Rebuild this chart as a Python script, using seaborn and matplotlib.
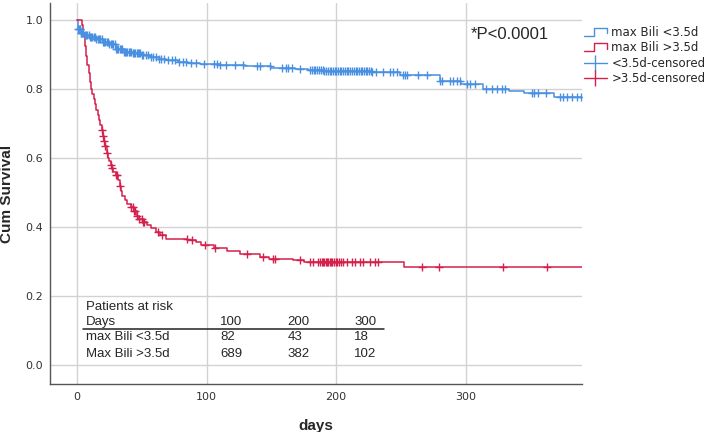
import numpy as np
import matplotlib
matplotlib.use("Agg")
import matplotlib.pyplot as plt
from matplotlib.lines import Line2D
from matplotlib.legend_handler import HandlerLine2D
import seaborn as sns

# Kaplan-Meier steps (event day, cumulative survival after it)
low_days = [0, 1, 3, 6, 10, 15, 20, 25, 30, 36, 43, 50, 56, 63, 69, 78, 86, 95,
            110, 130, 150, 168, 178, 190, 228, 249, 280, 296, 313, 333, 345, 368]
low_surv = [1.0, 0.975, 0.962, 0.955, 0.950, 0.946, 0.937, 0.929, 0.916, 0.908,
            0.903, 0.897, 0.892, 0.888, 0.884, 0.879, 0.876, 0.872, 0.869, 0.866,
            0.862, 0.859, 0.855, 0.852, 0.848, 0.840, 0.822, 0.813, 0.801, 0.793,
            0.788, 0.778]
high_days = [0, 4, 5, 6, 7, 8, 9, 10, 11, 12, 13, 14, 15, 16, 17, 18, 19, 20, 21,
             22, 23, 24, 25, 26, 27, 28, 30, 32, 33, 34, 35, 37, 39, 42, 44, 46,
             48, 51, 54, 57, 61, 64, 69, 85, 92, 96, 106, 116, 126, 141, 148, 167,
             175, 252]
high_surv = [1.0, 0.985, 0.955, 0.925, 0.895, 0.87, 0.845, 0.82, 0.80, 0.785,
             0.77, 0.755, 0.74, 0.725, 0.71, 0.695, 0.68, 0.665, 0.65, 0.635,
             0.615, 0.60, 0.59, 0.58, 0.57, 0.56, 0.55, 0.535, 0.52, 0.505, 0.49,
             0.478, 0.468, 0.458, 0.445, 0.432, 0.422, 0.414, 0.405, 0.398, 0.386,
             0.377, 0.366, 0.362, 0.356, 0.348, 0.339, 0.331, 0.322, 0.314, 0.307,
             0.303, 0.300, 0.285]
end_day = 390

# censored observations (days)
low_censored = [1, 1.5, 2, 2.5, 3, 3.5, 4, 4.5, 5, 6, 7, 8, 9, 10, 11, 12, 13, 14,
                15, 16, 17, 18, 19, 20, 21, 22, 23, 24, 25, 26, 27, 28, 29, 30, 31,
                32, 33, 34, 35, 36, 37, 38, 39, 40, 41, 42, 43, 44, 45, 46, 47, 48,
                49, 50, 51, 53, 55, 57, 59, 61, 63, 65, 67, 70, 73, 76, 79, 82, 84,
                88, 92, 98, 106, 108, 110, 115, 122, 128, 139, 141, 149, 158, 161,
                163, 166, 172, 180, 181.5, 183, 184, 185.5, 187, 188, 189.5, 191,
                192, 193.5, 195, 196, 197.5, 199, 200, 201.5, 203, 204, 205.5, 207,
                208, 209.5, 211, 212, 213.5, 215, 216, 217.5, 219, 220, 221.5, 223,
                224, 225.5, 227, 228, 231, 236, 241.5, 244, 247, 251.5, 253, 254.6,
                263, 270, 280, 282, 288, 290, 293, 295.5, 300.7, 303, 307, 316, 320,
                324, 327.7, 330, 351, 353, 356, 362, 372.7, 375, 378, 382, 385.6, 389]
high_censored = [19, 20, 21, 22, 23.5, 26, 27, 30, 31, 33, 42, 43, 44, 45, 46, 48,
                 50, 51, 52, 62.5, 66, 84.6, 88.5, 99, 106.5, 131, 143.5, 151, 153,
                 172, 180, 182, 186, 187.5, 189, 190, 191, 192, 193, 194, 195, 196,
                 197, 198, 199.5, 201, 202.5, 204, 205, 208, 212, 214.5, 218.4, 221,
                 226, 230, 232, 266, 279, 329, 363]

# patients at risk table
risk_days = [100, 200, 300]
risk_low = [82, 43, 18]
risk_high = [689, 382, 102]
risk_labels = ["max Bili <3.5d", "Max Bili >3.5d"]

series_labels = ["max Bili <3.5d", "max Bili >3.5d", "<3.5d-censored", ">3.5d-censored"]
BLUE = "#4A90E2"
RED = "#D4204C"


def surv_at(days, surv, t):
    idx = np.searchsorted(np.asarray(days), np.asarray(t), side="right") - 1
    return np.asarray(surv)[idx]


class HandlerStep(HandlerLine2D):
    """draws the little step icon SPSS uses in its legend"""
    def create_artists(self, legend, orig_handle, xdescent, ydescent,
                       width, height, fontsize, trans):
        x0, x1 = -xdescent, -xdescent + width
        ym = height / 2 - ydescent
        xs = [x0, x0 + 0.45 * width, x0 + 0.45 * width, x1, x1]
        ys = [ym - 3, ym - 3, ym + 3, ym + 3, ym - 1]
        line = Line2D(xs, ys, color=orig_handle.get_color(), lw=1)
        line.set_transform(trans)
        return [line]


sns.set_theme(style="whitegrid", rc={
    "grid.color": "#d2d2d2",
    "grid.linewidth": 1.0,
    "axes.edgecolor": "#555555",
    "axes.linewidth": 1.0,
})
plt.rcParams["font.family"] = ["DejaVu Sans"]

fig = plt.figure(figsize=(7.09, 4.32), dpi=100)
ax = fig.add_axes([0.0705, 0.111, 0.7504, 0.882])

for days, surv, color in [(low_days, low_surv, BLUE), (high_days, high_surv, RED)]:
    xs = list(days) + [end_day]
    ys = list(surv) + [surv[-1]]
    sns.lineplot(x=xs, y=ys, drawstyle="steps-post", color=color, lw=1.1,
                 estimator=None, ax=ax)

for days, surv, cens, color in [(low_days, low_surv, low_censored, BLUE),
                                (high_days, high_surv, high_censored, RED)]:
    sns.scatterplot(x=cens, y=surv_at(days, surv, cens), marker="+", s=32,
                    color=color, linewidth=1.0, ax=ax, zorder=3)

ax.set_xlim(-20.8, 389.7)
ax.set_ylim(-0.055, 1.049)
ax.set_xticks([0, 100, 200, 300])
ax.set_yticks([0.0, 0.2, 0.4, 0.6, 0.8, 1.0])
ax.set_yticklabels(["0.0", "0.2", "0.4", "0.6", "0.8", "1.0"])
ax.tick_params(axis="both", length=0, labelsize=8, labelcolor="#333333")
ax.tick_params(axis="y", pad=5)
ax.tick_params(axis="x", pad=6)
sns.despine(ax=ax)

ax.set_xlabel("days", fontsize=11, fontweight="bold", family="Liberation Sans",
              labelpad=12)
ax.set_ylabel("Cum Survival", fontsize=11, fontweight="bold",
              family="Liberation Sans", labelpad=8)

ax.text(304, 0.957, "*P<0.0001", fontsize=12, family="Liberation Sans",
        ha="left", va="center")

# at-risk table inside the plot
tkw = dict(fontsize=9.5, family="Liberation Sans", va="center", ha="left")
ax.text(6.9, 0.167, "Patients at risk", **tkw)
ax.text(6.9, 0.1255, "Days", **tkw)
ax.plot([4.4, 236.9], [0.1035, 0.1035], color="#222222", lw=1.1)
col_x = [110.3, 162.3, 214]
ax.text(6.9, 0.080, risk_labels[0], **tkw)
ax.text(6.9, 0.032, risk_labels[1], **tkw)
for cx, d, a, b in zip(col_x, risk_days, risk_low, risk_high):
    ax.text(cx, 0.1255, str(d), **tkw)
    ax.text(cx, 0.080, str(a), **tkw)
    ax.text(cx, 0.032, str(b), **tkw)

handles = [
    Line2D([], [], color=BLUE),
    Line2D([], [], color=RED),
    Line2D([], [], color=BLUE, lw=1, marker="|", markersize=11, markeredgewidth=1),
    Line2D([], [], color=RED, lw=1, marker="|", markersize=11, markeredgewidth=1),
]
fig.legend(handles, series_labels, loc="upper left", bbox_to_anchor=(0.823, 0.94),
           frameon=False, fontsize=8.5, borderpad=0, borderaxespad=0,
           handlelength=2.0, handletextpad=0.35, labelspacing=0.2,
           handler_map={handles[0]: HandlerStep(), handles[1]: HandlerStep()})

fig.savefig("out.png", dpi=100)
